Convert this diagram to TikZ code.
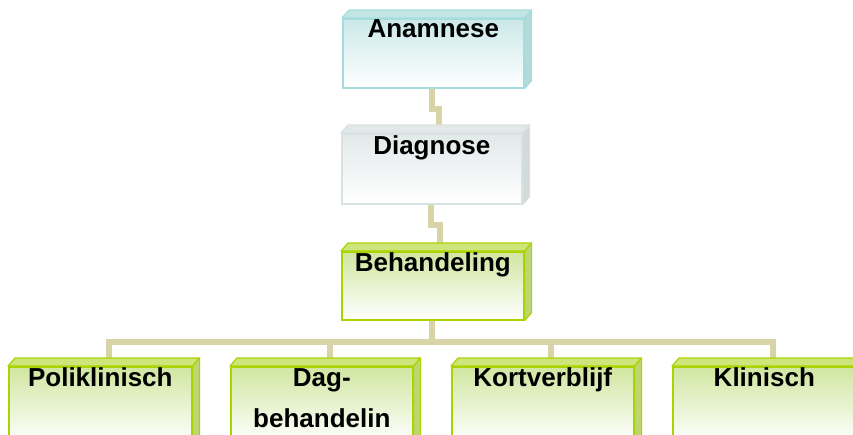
\documentclass[tikz,border=0pt]{standalone}
\usepackage{fontspec}
\setmainfont{Liberation Sans}
\usetikzlibrary{backgrounds,calc}
\definecolor{tealborder}{HTML}{A6DCDC}
\definecolor{tealtop}{HTML}{CBE8E9}
\definecolor{tealtopface}{HTML}{C2E6E6}
\definecolor{tealside}{HTML}{B3D9D9}
\definecolor{greyborder}{HTML}{D9E2E2}
\definecolor{greytop}{HTML}{E2E9E9}
\definecolor{greytopface}{HTML}{E2E8E8}
\definecolor{greyside}{HTML}{D2DADA}
\definecolor{greenborder}{HTML}{AAD400}
\definecolor{greentop}{HTML}{D0E6A0}
\definecolor{greentopface}{HTML}{CDE57A}
\definecolor{greenside}{HTML}{BDD670}
\definecolor{connc}{HTML}{D8D4A8}
\tikzset{
  face/.style={draw=#1border, line width=1.6pt, top color=#1top, bottom color=white,
    anchor=north west, inner sep=0pt, minimum width=181pt, minimum height=69pt},
  topf/.style={fill=#1topface, draw=#1border, line width=1.2pt, line join=round},
  sidef/.style={fill=#1side, draw=#1border, line width=1.2pt, line join=round},
  lbl/.style={font=\bfseries\fontsize{26}{41}\selectfont, anchor=base, inner sep=0pt, align=center},
  conn/.style={draw=connc, line width=6pt},
}
\newcommand\facets[2]{%
  \path[topf=#2] (#1.north west) -- ([shift={(7,-8)}]#1.north west)
     -- ([shift={(7,-8)}]#1.north east) -- (#1.north east) -- cycle;
  \path[sidef=#2] (#1.north east) -- ([shift={(7,-8)}]#1.north east)
     -- ([shift={(7,-8)}]#1.south east) -- (#1.south east) -- cycle;
}
\begin{document}
\begin{tikzpicture}[x=1pt,y=-1pt]
\useasboundingbox (0,0) rectangle (853,434);
\clip (0,0) rectangle (853,434);
% front faces
\node[face=teal, minimum width=181pt, minimum height=69pt] (ana) at (342,18) {};
\node[face=grey, minimum width=180pt, minimum height=70pt] (dia) at (341,133) {};
\node[face=green, minimum width=182pt, minimum height=68pt] (beh) at (341,251) {};
\node[face=green, minimum width=183pt, minimum height=75pt] (pol) at (8,366) {};
\node[face=green, minimum width=182pt, minimum height=75pt] (dag) at (230,366) {};
\node[face=green, minimum width=182pt, minimum height=75pt] (kor) at (451,366) {};
\node[face=green, minimum width=183pt, minimum height=75pt] (kli) at (672,366) {};
\facets{ana}{teal}
\facets{dia}{grey}
\facets{beh}{green}
\facets{pol}{green}
\facets{dag}{green}
\facets{kor}{green}
\facets{kli}{green}
% labels
\node[lbl] (anaT) at (ana.north |- 0,37) {Anamnese};
\node[lbl] (diaT) at (dia.north |- 0,154) {Diagnose};
\node[lbl] (behT) at (beh.north |- 0,271) {Behandeling};
\node[lbl] (polT) at (pol.north |- 0,386) {Poliklinisch};
\node[lbl] (dagT) at (dag.north |- 0,427) {Dag-\\behandelin};
\node[lbl] (korT) at (kor.north |- 0,386) {Kortverblijf};
\node[lbl] (kliT) at (kli.north |- 0,386) {Klinisch};
% connectors
\begin{scope}[on background layer]
\draw[conn] ([xshift=-1.5pt]ana.south) -- ++(0,20.5) -| ([shift={(7,-8)}]dia.north);
\draw[conn] ([xshift=-1pt]dia.south) -- ++(0,20) -| ([shift={(7,-8)}]beh.north);
\draw[conn] ([xshift=-1pt]beh.south) -- ++(0,21) coordinate (bar);
\draw[conn] (bar) -| ([shift={(8.5,-8)}]pol.north);
\draw[conn] (bar) -| ([shift={(8,-8)}]dag.north);
\draw[conn] (bar) -| ([shift={(8,-8)}]kor.north);
\draw[conn] (bar) -| ([shift={(8.5,-8)}]kli.north);
\end{scope}
\end{tikzpicture}
\end{document}
